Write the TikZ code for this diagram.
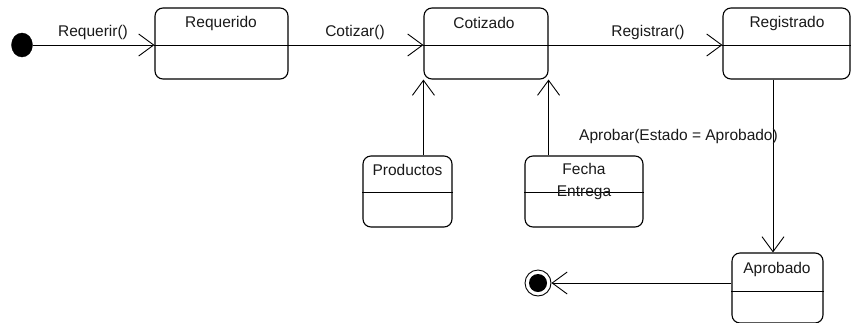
\documentclass[tikz,border=0pt]{standalone}
\usepackage{fontspec}
\setmainfont{Liberation Sans}
\usetikzlibrary{arrows.meta,shapes.geometric}
\begin{document}
\begin{tikzpicture}[x=1pt,y=-1pt,
  every node/.style={font=\fontsize{15.5}{17}\selectfont, inner sep=0pt},
  sbox/.style={draw, line width=1.1pt, rounded corners=8pt, rectangle},
  lbl/.style={text=black!90},
  conn/.style={line width=0.9pt},
  arr/.style={conn, -{Straight Barb[length=15pt,width=22pt,line width=0.9pt]}}]
\useasboundingbox (0,0) rectangle (851,322);
% states
\node[sbox, minimum width=133pt, minimum height=71pt] (req) at (221.5,43.5) {};
\node[sbox, minimum width=124pt, minimum height=71pt] (cot) at (486,43.5) {};
\node[sbox, minimum width=127pt, minimum height=71pt] (reg) at (786.5,43.5) {};
\node[sbox, minimum width=89pt, minimum height=71pt] (prod) at (407.5,191.5) {};
\node[sbox, minimum width=118pt, minimum height=71pt] (fe) at (584,191.5) {};
\node[sbox, minimum width=91pt, minimum height=70pt] (apr) at (777.5,288) {};
% dividers
\draw[conn] (prod.west |- 0,192) -- (prod.east |- 0,192);
\draw[conn] (fe.west |- 0,192) -- (fe.east |- 0,192);
\draw[conn] (apr.west |- 0,291) -- (apr.east |- 0,291);
\draw[conn] (req.west |- 0,45) -- (req.east |- 0,45);
\draw[conn] (cot.west |- 0,45) -- (cot.east |- 0,45);
\draw[conn] (reg.west |- 0,45) -- (reg.east |- 0,45);
% state names
\node[lbl] (reqt) at (221,23) {Requerido};
\node[lbl] (cott) at (484,23) {Cotizado};
\node[lbl] (regt) at (787,23) {Registrado};
\node[lbl] (prodt) at (407.5,170) {Productos};
\node[lbl] (fet1) at (584,169) {Fecha};
\node[lbl] (fet2) at (584,193) {Entrega};
\node[lbl] (aprt) at (777,269) {Aprobado};
% initial and final
\node[draw, fill=black, ellipse, minimum width=21pt, minimum height=24pt] (init) at (22,45) {};
\node[draw, circle, line width=0.9pt, minimum size=26pt] (fin) at (538,283) {};
\node[fill=black, circle, minimum size=18pt] (fininner) at (538,283) {};
\coordinate (v) at (773,0);
% transitions
\draw[arr] (init.east) -- (req.west |- init);
\draw[arr] (req.east |- init) -- (cot.west |- init);
\draw[arr] (cot.east |- init) -- (reg.west |- init);
\draw[arr] (prod.north -| cot.west) -- (cot.south west);
\draw[arr] (fe.north -| cot.east) -- (cot.south east);
\draw[arr] (reg.south -| v) -- (apr.north -| v);
\draw[arr] (apr.west |- fin) -- (fin.east);
% labels
\node[lbl] (l1) at (93,32) {Requerir()};
\node[lbl] (l2) at (355,32) {Cotizar()};
\node[lbl] (l3) at (648,32) {Registrar()};
\node[lbl, anchor=east] (l4) at (778,136) {Aprobar(Estado = Aprobado)};
\end{tikzpicture}
\end{document}
